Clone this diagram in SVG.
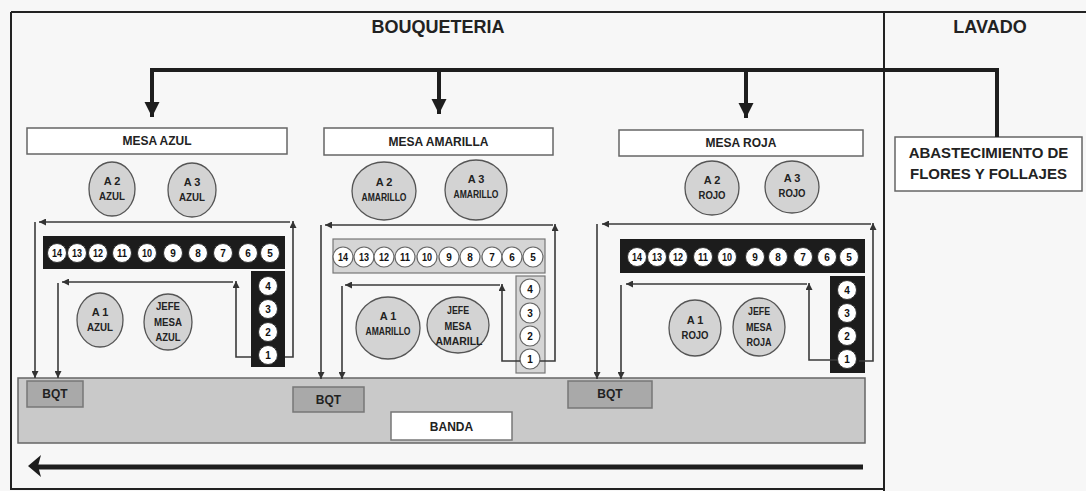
<svg xmlns="http://www.w3.org/2000/svg" width="1086" height="491" viewBox="0 0 1086 491">
<defs>
<style>
.lbl{font-family:"Liberation Sans",Arial,sans-serif;font-weight:bold;fill:#222;text-anchor:middle}
.t18{font-size:18px}
.t15{font-size:15px}
.t12{font-size:12px}
.pt{font-size:11px}
.nt{font-size:10px;fill:#111}
.frame{stroke:#222;stroke-width:2;fill:none}
.mesa{fill:#fff;stroke:#666;stroke-width:1.5}
.person{fill:#d3d3d3;stroke:#555;stroke-width:1.3}
.barD{fill:#1c1c1c}
.barL{fill:#d5d5d5;stroke:#777;stroke-width:1.2}
.num{fill:#fff;stroke:#333;stroke-width:1}
.numL{fill:#fff;stroke:#666;stroke-width:1.2}
.bqt{fill:#a9a9a9;stroke:#777;stroke-width:1.5}
.band{fill:#c9c9c9;stroke:#666;stroke-width:1.5}
.flow{stroke:#3a3a3a;stroke-width:1.6;fill:none;marker-end:url(#ah)}
.supply{stroke:#1e1e1e;stroke-width:4;fill:none}
.drop{stroke:#1e1e1e;stroke-width:4;fill:none;marker-end:url(#big)}
</style>
<marker id="ah" viewBox="0 0 10 10" refX="10" refY="5" markerUnits="userSpaceOnUse" markerWidth="8" markerHeight="7" orient="auto"><path d="M0,0 L10,5 L0,10 z" fill="#333"/></marker>
<marker id="big" viewBox="0 0 10 10" refX="10" refY="5" markerUnits="userSpaceOnUse" markerWidth="15" markerHeight="18" orient="auto"><path d="M0,0 L10,5 L0,10 z" fill="#1e1e1e"/></marker>
</defs>
<rect x="0" y="0" width="1086" height="491" fill="#f7f7f7"/>

<g id="frame">
<path class="frame" d="M11,12 H1086 M11,12 V489 H884 M884,12 V491"/>
<text class="lbl t18" x="438" y="33">BOUQUETERIA</text>
<text class="lbl t18" x="990" y="33">LAVADO</text>
</g>

<g id="banda">
<rect class="band" x="18" y="378" width="847" height="65"/>
<rect x="391" y="412" width="121" height="28" fill="#fff" stroke="#777" stroke-width="1.5"/>
<text class="lbl t12" x="451.5" y="431">BANDA</text>
</g>

<g id="abastecimiento">
<rect class="mesa" x="895" y="137" width="187" height="54"/>
<text class="lbl t15" x="988.5" y="158">ABASTECIMIENTO DE</text>
<text class="lbl t15" x="988.5" y="179">FLORES Y FOLLAJES</text>
</g>

<!-- MESA AZUL -->
<g id="mesa-azul">
<rect class="mesa" x="27" y="128" width="260" height="26"/>
<text class="lbl t12" x="157" y="145">MESA AZUL</text>
</g>
<g id="a2-azul"><ellipse class="person" cx="112" cy="189" rx="23" ry="27"/><text class="lbl pt" x="112" y="185">A 2</text><text class="lbl pt" x="112" y="200" textLength="26" lengthAdjust="spacingAndGlyphs">AZUL</text></g>
<g id="a3-azul"><ellipse class="person" cx="192" cy="190" rx="24" ry="27"/><text class="lbl pt" x="192" y="186">A 3</text><text class="lbl pt" x="192" y="201" textLength="26" lengthAdjust="spacingAndGlyphs">AZUL</text></g>
<g id="a1-azul"><ellipse class="person" cx="100" cy="320" rx="23" ry="27"/><text class="lbl pt" x="100" y="316">A 1</text><text class="lbl pt" x="100" y="331" textLength="26" lengthAdjust="spacingAndGlyphs">AZUL</text></g>
<g id="jefe-azul"><ellipse class="person" cx="168" cy="322" rx="24" ry="28"/><text class="lbl pt" x="168" y="310" textLength="24" lengthAdjust="spacingAndGlyphs">JEFE</text><text class="lbl pt" x="168" y="326" textLength="28" lengthAdjust="spacingAndGlyphs">MESA</text><text class="lbl pt" x="168" y="341" textLength="25" lengthAdjust="spacingAndGlyphs">AZUL</text></g>
<g id="puestos-azul">
<rect class="barD" x="43" y="236" width="242" height="33"/>
<rect class="barD" x="251" y="271" width="34" height="96"/>
<circle class="num" cx="57" cy="253" r="9.5"/><text class="lbl nt" x="57" y="256.5" textLength="10" lengthAdjust="spacingAndGlyphs">14</text>
<circle class="num" cx="77" cy="253" r="9.5"/><text class="lbl nt" x="77" y="256.5" textLength="10" lengthAdjust="spacingAndGlyphs">13</text>
<circle class="num" cx="98" cy="253" r="9.5"/><text class="lbl nt" x="98" y="256.5" textLength="10" lengthAdjust="spacingAndGlyphs">12</text>
<circle class="num" cx="122" cy="253" r="9.5"/><text class="lbl nt" x="122" y="256.5" textLength="10" lengthAdjust="spacingAndGlyphs">11</text>
<circle class="num" cx="147" cy="253" r="9.5"/><text class="lbl nt" x="147" y="256.5" textLength="10" lengthAdjust="spacingAndGlyphs">10</text>
<circle class="num" cx="173" cy="253" r="9.5"/><text class="lbl nt" x="173" y="256.5">9</text>
<circle class="num" cx="198" cy="253" r="9.5"/><text class="lbl nt" x="198" y="256.5">8</text>
<circle class="num" cx="223" cy="253" r="9.5"/><text class="lbl nt" x="223" y="256.5">7</text>
<circle class="num" cx="248" cy="253" r="9.5"/><text class="lbl nt" x="248" y="256.5">6</text>
<circle class="num" cx="270" cy="253" r="9.5"/><text class="lbl nt" x="270" y="256.5">5</text>
<circle class="num" cx="268" cy="286" r="9.5"/><text class="lbl nt" x="268" y="289.5">4</text>
<circle class="num" cx="268" cy="309" r="9.5"/><text class="lbl nt" x="268" y="312.5">3</text>
<circle class="num" cx="268" cy="332" r="9.5"/><text class="lbl nt" x="268" y="335.5">2</text>
<circle class="num" cx="268" cy="355" r="9.5"/><text class="lbl nt" x="268" y="358.5">1</text>
</g>
<g id="bqt-azul"><rect class="bqt" x="27" y="381" width="56" height="26"/><text class="lbl t12" x="55" y="398">BQT</text></g>

<!-- MESA AMARILLA -->
<g id="mesa-amarilla">
<rect class="mesa" x="324" y="128" width="229" height="27"/>
<text class="lbl t12" x="438.5" y="146">MESA AMARILLA</text>
</g>
<g id="a2-amarillo"><ellipse class="person" cx="384" cy="191" rx="32" ry="29"/><text class="lbl pt" x="384" y="186">A 2</text><text class="lbl pt" x="384" y="201" textLength="45" lengthAdjust="spacingAndGlyphs">AMARILLO</text></g>
<g id="a3-amarillo"><ellipse class="person" cx="476" cy="190" rx="31" ry="30"/><text class="lbl pt" x="476" y="183">A 3</text><text class="lbl pt" x="476" y="198" textLength="45" lengthAdjust="spacingAndGlyphs">AMARILLO</text></g>
<g id="a1-amarillo"><ellipse class="person" cx="388" cy="328" rx="32" ry="31"/><text class="lbl pt" x="388" y="320">A 1</text><text class="lbl pt" x="388" y="335" textLength="45" lengthAdjust="spacingAndGlyphs">AMARILLO</text></g>
<g id="jefe-amarilla"><ellipse class="person" cx="458" cy="325" rx="31" ry="28"/><text class="lbl pt" x="458" y="314" textLength="22" lengthAdjust="spacingAndGlyphs">JEFE</text><text class="lbl pt" x="458" y="330" textLength="27" lengthAdjust="spacingAndGlyphs">MESA</text><text class="lbl pt" x="459" y="345" textLength="47" lengthAdjust="spacingAndGlyphs">AMARILL</text></g>
<g id="puestos-amarilla">
<rect class="barL" x="333" y="239" width="212" height="34"/>
<rect class="barL" x="516" y="276" width="29" height="97"/>
<circle class="numL" cx="343" cy="257" r="10"/><text class="lbl nt" x="343" y="260.5" textLength="10" lengthAdjust="spacingAndGlyphs">14</text>
<circle class="numL" cx="364" cy="257" r="10"/><text class="lbl nt" x="364" y="260.5" textLength="10" lengthAdjust="spacingAndGlyphs">13</text>
<circle class="numL" cx="384" cy="257" r="10"/><text class="lbl nt" x="384" y="260.5" textLength="10" lengthAdjust="spacingAndGlyphs">12</text>
<circle class="numL" cx="405" cy="257" r="10"/><text class="lbl nt" x="405" y="260.5" textLength="10" lengthAdjust="spacingAndGlyphs">11</text>
<circle class="numL" cx="427" cy="257" r="10"/><text class="lbl nt" x="427" y="260.5" textLength="10" lengthAdjust="spacingAndGlyphs">10</text>
<circle class="numL" cx="449" cy="257" r="10"/><text class="lbl nt" x="449" y="260.5">9</text>
<circle class="numL" cx="470" cy="257" r="10"/><text class="lbl nt" x="470" y="260.5">8</text>
<circle class="numL" cx="492" cy="257" r="10"/><text class="lbl nt" x="492" y="260.5">7</text>
<circle class="numL" cx="512" cy="257" r="10"/><text class="lbl nt" x="512" y="260.5">6</text>
<circle class="numL" cx="533" cy="257" r="10"/><text class="lbl nt" x="533" y="260.5">5</text>
<circle class="numL" cx="530" cy="289" r="10"/><text class="lbl nt" x="530" y="292.5">4</text>
<circle class="numL" cx="530" cy="313" r="10"/><text class="lbl nt" x="530" y="316.5">3</text>
<circle class="numL" cx="530" cy="336" r="10"/><text class="lbl nt" x="530" y="339.5">2</text>
<circle class="numL" cx="530" cy="359" r="10"/><text class="lbl nt" x="530" y="362.5">1</text>
</g>
<g id="bqt-amarilla"><rect class="bqt" x="293" y="387" width="71" height="25"/><text class="lbl t12" x="328.5" y="404">BQT</text></g>

<!-- MESA ROJA -->
<g id="mesa-roja">
<rect class="mesa" x="619" y="130" width="244" height="26"/>
<text class="lbl t12" x="741" y="147">MESA ROJA</text>
</g>
<g id="a2-rojo"><ellipse class="person" cx="712" cy="188" rx="27" ry="27"/><text class="lbl pt" x="712" y="184">A 2</text><text class="lbl pt" x="712" y="199" textLength="27" lengthAdjust="spacingAndGlyphs">ROJO</text></g>
<g id="a3-rojo"><ellipse class="person" cx="792" cy="187" rx="27" ry="26"/><text class="lbl pt" x="792" y="182">A 3</text><text class="lbl pt" x="792" y="197" textLength="27" lengthAdjust="spacingAndGlyphs">ROJO</text></g>
<g id="a1-rojo"><ellipse class="person" cx="695" cy="328" rx="26" ry="28"/><text class="lbl pt" x="695" y="324">A 1</text><text class="lbl pt" x="695" y="339" textLength="27" lengthAdjust="spacingAndGlyphs">ROJO</text></g>
<g id="jefe-roja"><ellipse class="person" cx="759" cy="327" rx="26" ry="29"/><text class="lbl pt" x="759" y="315" textLength="22" lengthAdjust="spacingAndGlyphs">JEFE</text><text class="lbl pt" x="759" y="331" textLength="26" lengthAdjust="spacingAndGlyphs">MESA</text><text class="lbl pt" x="759" y="346" textLength="25" lengthAdjust="spacingAndGlyphs">ROJA</text></g>
<g id="puestos-roja">
<rect class="barD" x="620" y="239" width="245" height="34"/>
<rect class="barD" x="830" y="276" width="35" height="97"/>
<circle class="num" cx="637" cy="257" r="9.5"/><text class="lbl nt" x="637" y="260.5" textLength="10" lengthAdjust="spacingAndGlyphs">14</text>
<circle class="num" cx="657" cy="257" r="9.5"/><text class="lbl nt" x="657" y="260.5" textLength="10" lengthAdjust="spacingAndGlyphs">13</text>
<circle class="num" cx="678" cy="257" r="9.5"/><text class="lbl nt" x="678" y="260.5" textLength="10" lengthAdjust="spacingAndGlyphs">12</text>
<circle class="num" cx="703" cy="257" r="9.5"/><text class="lbl nt" x="703" y="260.5" textLength="10" lengthAdjust="spacingAndGlyphs">11</text>
<circle class="num" cx="727" cy="257" r="9.5"/><text class="lbl nt" x="727" y="260.5" textLength="10" lengthAdjust="spacingAndGlyphs">10</text>
<circle class="num" cx="755" cy="257" r="9.5"/><text class="lbl nt" x="755" y="260.5">9</text>
<circle class="num" cx="778" cy="257" r="9.5"/><text class="lbl nt" x="778" y="260.5">8</text>
<circle class="num" cx="803" cy="257" r="9.5"/><text class="lbl nt" x="803" y="260.5">7</text>
<circle class="num" cx="827" cy="257" r="9.5"/><text class="lbl nt" x="827" y="260.5">6</text>
<circle class="num" cx="849" cy="257" r="9.5"/><text class="lbl nt" x="849" y="260.5">5</text>
<circle class="num" cx="847" cy="290" r="9.5"/><text class="lbl nt" x="847" y="293.5">4</text>
<circle class="num" cx="847" cy="313" r="9.5"/><text class="lbl nt" x="847" y="316.5">3</text>
<circle class="num" cx="847" cy="336" r="9.5"/><text class="lbl nt" x="847" y="339.5">2</text>
<circle class="num" cx="847" cy="359" r="9.5"/><text class="lbl nt" x="847" y="362.5">1</text>
</g>
<g id="bqt-roja"><rect class="bqt" x="568" y="381" width="84" height="27"/><text class="lbl t12" x="610" y="398">BQT</text></g>

<g id="connectors">
<path class="supply" d="M997,137 V70 H150"/>
<path class="drop" d="M152,70 V117"/>
<path class="drop" d="M439,70 V114"/>
<path class="drop" d="M746,70 V118"/>
<!-- azul -->
<path class="flow" d="M285,357 H293 V221"/>
<path class="flow" d="M290,222 H39"/>
<path class="flow" d="M35,222 V378"/>
<path class="flow" d="M251,357 H236 V281"/>
<path class="flow" d="M233,282 H62"/>
<path class="flow" d="M58,283 V378"/>
<!-- amarilla -->
<path class="flow" d="M540,361 H555 V224"/>
<path class="flow" d="M553,225 H325"/>
<path class="flow" d="M321,225 V379"/>
<path class="flow" d="M520,361 H502 V284"/>
<path class="flow" d="M500,285 H345"/>
<path class="flow" d="M342,286 V379"/>
<!-- roja -->
<path class="flow" d="M859,361 H873 V223"/>
<path class="flow" d="M871,224 H602"/>
<path class="flow" d="M597,224 V379"/>
<path class="flow" d="M837,360 H809 V283"/>
<path class="flow" d="M807,284 H626"/>
<path class="flow" d="M621,285 V379"/>
<!-- banda direction -->
<path d="M863,467 H38" stroke="#1e1e1e" stroke-width="5" fill="none"/>
<polygon points="28,466 41,455 38,466 41,477" fill="#1e1e1e"/>
</g>
</svg>
